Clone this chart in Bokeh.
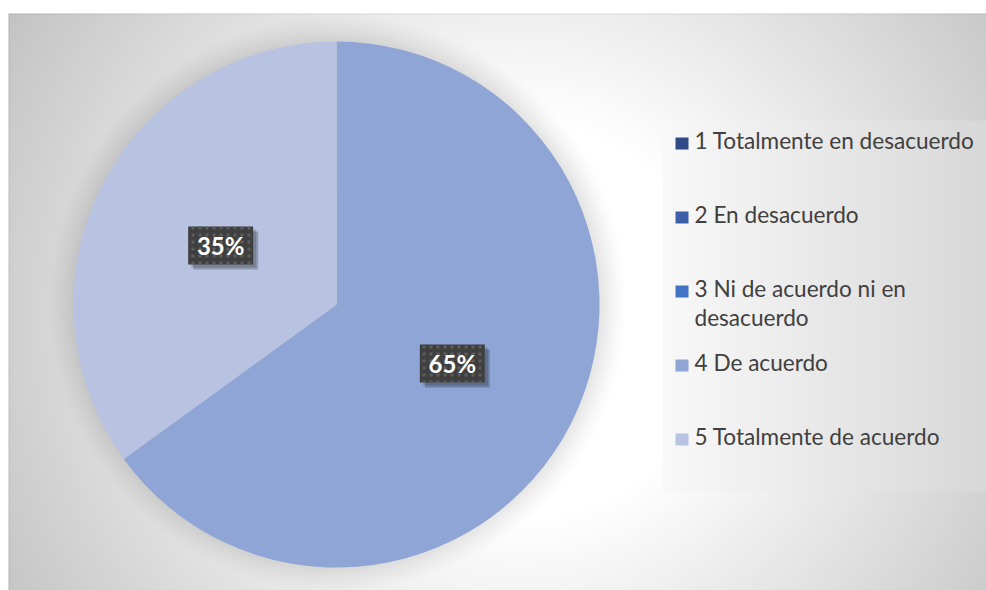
import numpy as np
from bokeh.plotting import figure
from bokeh.models import Range1d, ColumnDataSource
from bokeh.core.properties import value
from bokeh.embed import file_html
from bokeh.resources import INLINE

# ---- data ----
categories = ["1 Totalmente en desacuerdo", "2 En desacuerdo",
              "3 Ni de acuerdo ni en\ndesacuerdo", "4 De acuerdo",
              "5 Totalmente de acuerdo"]
percent = [0, 0, 0, 65, 35]
colors = ["#2E4A87", "#3B60A9", "#4472C4", "#8FA5D5", "#B8C3E2"]

# ---- layout (screen px) ----
W, H = 986, 590
OFF = 0


def X(sx):
    return sx - OFF


def Y(sy):
    return (H + OFF) - sy


CX, CY, R = 336, 304, 263

p = figure(width=W, height=H, output_backend="svg", toolbar_location=None,
           x_range=Range1d(0, W), y_range=Range1d(0, H),
           min_border=0, outline_line_color=None)
p.axis.visible = False
p.grid.visible = False
p.background_fill_color = "white"
p.border_fill_color = "white"

# ---- background: radial gradient, pie shadow, legend panel ----
ys, xs = np.mgrid[0:H, 0:W].astype(float)
sx = xs + OFF
sy = ys + OFF
d = np.hypot(sx - 520, sy - 320)
t = np.clip((d - 200) / 400, 0, 1)
g = 255 - t * (255 - 195)
dp = np.hypot(sx - CX, sy - CY + 2)
shade = 0.12 * (1 - np.clip((dp - (R - 4)) / 30, 0, 1)) ** 1.3
g = g * (1 - shade)
leg = (sx >= 662) & (sx <= 985) & (sy >= 120) & (sy <= 490)
u = (sx - 662) / 323.0
g = np.where(leg, 249 - 33 * u, g)
g = np.where((sy >= 13) & (sy < 14) | ((sx >= 8) & (sx < 9) & (sy >= 13)), g - 18, g)
g = np.where((sy < 13) | (sx < 8), 255, g)
img = np.empty((H, W), dtype=np.uint32)
view = img.view(dtype=np.uint8).reshape((H, W, 4))
gi = np.clip(g, 0, 255).astype(np.uint8)
view[:, :, 0] = gi
view[:, :, 1] = gi
view[:, :, 2] = gi
view[:, :, 3] = 255
p.image_rgba(image=[np.flipud(img)], x=0, y=0, dw=W, dh=H)

# ---- pie ----
total = float(sum(percent))
fr = np.array(percent) / total
cum = np.concatenate([[0], np.cumsum(fr)])
starts = np.pi / 2 - 2 * np.pi * cum[:-1]
ends = np.pi / 2 - 2 * np.pi * cum[1:]
mask = fr > 0
src = ColumnDataSource(dict(start=starts[mask], end=ends[mask],
                            color=np.array(colors)[mask]))
p.wedge(x=X(CX), y=Y(CY), radius=R, start_angle="start", end_angle="end",
        direction="clock", fill_color="color", line_color=None, source=src)

# ---- data labels ----
mid = (starts + ends) / 2
lr = 130
lx = X(CX) + lr * np.cos(mid[mask])
ly = Y(CY) + lr * np.sin(mid[mask])
labels = [f"{v}%" for v in np.array(percent)[mask]]
bw, bh = 65, 38
p.rect(x=lx + 5, y=ly - 5, width=bw, height=bh, fill_color="black",
       fill_alpha=0.22, line_color=None)
p.rect(x=lx + 3, y=ly - 3, width=bw, height=bh, fill_color="black",
       fill_alpha=0.15, line_color=None)
p.rect(x=lx, y=ly, width=bw, height=bh, fill_color="#3F3F3F", line_color=None,
       hatch_pattern="dot", hatch_color="#5C5C5C", hatch_scale=7, hatch_weight=3)
p.text(x=lx, y=ly, text=labels, text_font=value("Lato"), text_font_style="bold",
       text_font_size="24px", text_color="white", text_align="center",
       text_baseline="middle")

# ---- legend ----
base0, step, lh = 140, 74, 29
mx, my = [], []
tlx, tly, tlt = [], [], []
for i, lab in enumerate(categories):
    b = base0 + step * i
    mx.append(X(681.5))
    my.append(Y(b + 3))
    for j, line in enumerate(lab.split("\n")):
        tlx.append(X(694))
        tly.append(Y(b + lh * j))
        tlt.append(line)
p.rect(x=mx, y=my, width=13, height=12, fill_color=colors, line_color=None)
p.text(x=tlx, y=tly, text=tlt, text_font=value("Lato"), text_font_size="22.6px",
       text_color="#404040", text_align="left", text_baseline="alphabetic")

open("out.html", "w").write(file_html(p, INLINE))
